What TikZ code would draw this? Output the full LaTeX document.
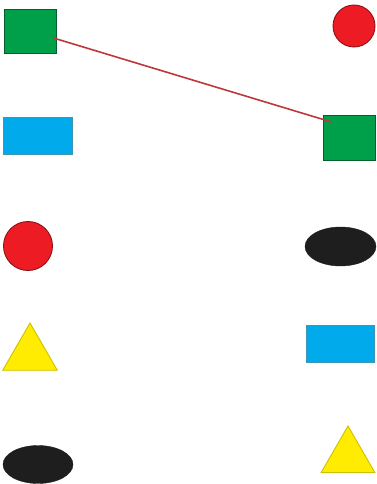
\documentclass[tikz,border=0pt]{standalone}
\usepackage{tikz}
\usetikzlibrary{shapes.geometric}
\definecolor{sqgreen}{RGB}{0,160,75}
\definecolor{rcblue}{RGB}{0,170,235}
\definecolor{ccred}{RGB}{237,28,36}
\definecolor{trylw}{RGB}{255,236,0}
\definecolor{elblk}{RGB}{30,30,30}
\definecolor{lnred}{RGB}{190,55,60}

\begin{document}
\begin{tikzpicture}[x=1pt,y=-1pt,
  sq/.style={rectangle,fill=sqgreen,draw=sqgreen!60!black,line width=0.9pt,inner sep=0pt,minimum width=52pt,minimum height=44pt},
  rc/.style={rectangle,fill=rcblue,draw=rcblue!50!gray,line width=0.9pt,inner sep=0pt,minimum width=69pt,minimum height=37pt},
  cc/.style={circle,fill=ccred,draw=ccred!60!black,line width=0.9pt,inner sep=0pt},
  tr/.style={regular polygon,regular polygon sides=3,fill=trylw,draw=trylw!60!olive,line width=0.9pt,inner sep=0pt},
  el/.style={ellipse,fill=elblk,draw=elblk,inner sep=0pt,minimum width=70pt,minimum height=38pt}]
  \useasboundingbox (0,0) rectangle (376,484);
  % left column
  \node (gl) [sq] at (30,31.5) {};
  \node (bl) [rc] at (38,136) {};
  \node (rl) [cc,minimum size=49pt] at (28,246) {};
  \node (yl) [tr,minimum size=63pt] at (30,354.5) {};
  \node (kl) [el] at (38,464.5) {};
  % right column
  \node (rr) [cc,minimum size=42pt] at (354,26) {};
  \node (gr) [sq,minimum height=45pt] at (349,137.5) {};
  \node (kr) [el,minimum width=71pt,minimum height=39pt] at (340.5,246.5) {};
  \node (br) [rc,minimum width=68pt] at (340,343.5) {};
  \node (yr) [tr,minimum size=62pt] at (348,457) {};
  % match line
  \draw[lnred,line width=1.6pt] ([xshift=-3pt,yshift=-6.5pt]gl.east) -- ([xshift=9pt,yshift=15.5pt]gr.west);
\end{tikzpicture}
\end{document}
